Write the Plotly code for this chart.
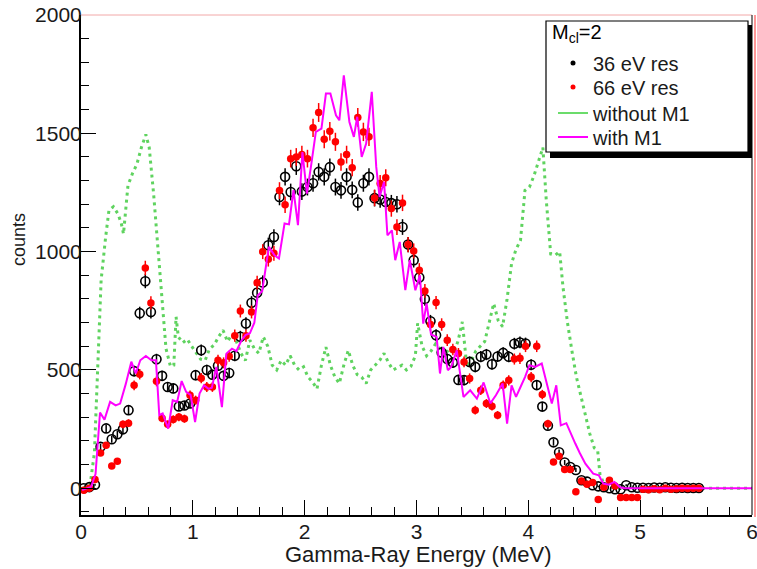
import plotly.graph_objects as go

# ---------------- data ----------------
BIN_START = 0.025   # MeV, first bin centre of the measured spectra
BIN_WIDTH = 0.05    # MeV

counts_36eV = [0, 5, 15, 175, 253, 207, 228, 249, 330, 495,
               740, 875, 745, 545, 475, 428, 422, 346, 350, 358,
               478, 583, 500, 480, 518, 475, 487, 560, 640, 696,
               784, 826, 870, 1027, 1062, 1231, 1316, 1252, 1361, 1254,
               1273, 1289, 1337, 1316, 1357, 1273, 1259, 1316, 1261, 1208,
               1289, 1316, 1226, 1220, 1210, 1205, 1200, 1104, 1030, 964,
               891, 800, 706, 647, 574, 546, 531, 458, 457, 534,
               513, 556, 565, 524, 557, 572, 556, 611, 616, 612,
               522, 436, 345, 264, 194, 152, 109, 90, 77, 34,
               28, 13, 8, 4, 0, -4, -4, 13, 4, 2,
               2, 1, 3, 2, 4, 2, 1, 2, 1, 1, 1]

counts_66eV = [-8, 0, 37, 149, 182, 94, 114, 270, 275, 435,
               482, 931, 783, 452, 296, 270, 291, 301, 294, 393,
               372, 465, 428, 428, 541, 530, 558, 645, 749, 645,
               745, 869, 1000, 968, 993, 1258, 1198, 1393, 1400, 1410,
               1393, 1523, 1588, 1475, 1509, 1464, 1379, 1410, 1355, 1567,
               1506, 1485, 1227, 1288, 1312, 1182, 1104, 1206, 1030, 1003,
               921, 834, 692, 785, 692, 626, 586, 569, 534, 464,
               330, 414, 358, 347, 309, 435, 456, 546, 549, 600,
               470, 600, 396, 273, 111, 135, 79, 79, -15, 31,
               17, 24, -48, 4, 34, 10, -39, -39, -39, -39,
               -4, -6, -2, -6, 0, -4, -2, 0, -1, 0, 0]

energy_36eV = [round(BIN_START + BIN_WIDTH * i, 4) for i in range(len(counts_36eV))]
energy_66eV = [round(BIN_START + BIN_WIDTH * i, 4) for i in range(len(counts_66eV))]

# model curve without M1 (green dotted)
energy_noM1 = [0.02, 0.08, 0.12, 0.15, 0.18, 0.22, 0.25, 0.29, 0.33, 0.36,
               0.38, 0.42, 0.46, 0.50, 0.54, 0.58, 0.61, 0.65, 0.69, 0.73,
               0.76, 0.80, 0.83, 0.85, 0.87, 0.91, 0.95, 0.99, 1.03, 1.07,
               1.11, 1.15, 1.19, 1.23, 1.27, 1.31, 1.35, 1.39, 1.43, 1.47,
               1.51, 1.55, 1.59, 1.63, 1.67, 1.71, 1.75, 1.79, 1.83, 1.87,
               1.91, 1.95, 1.99, 2.03, 2.07, 2.11, 2.15, 2.19, 2.23, 2.27,
               2.31, 2.35, 2.39, 2.43, 2.47, 2.51, 2.55, 2.59, 2.63, 2.67,
               2.71, 2.75, 2.79, 2.83, 2.87, 2.91, 2.95, 2.99, 3.01, 3.05,
               3.09, 3.13, 3.17, 3.21, 3.25, 3.29, 3.33, 3.37, 3.41, 3.45,
               3.49, 3.53, 3.57, 3.61, 3.65, 3.69, 3.73, 3.77, 3.81, 3.85,
               3.89, 3.93, 3.97, 4.01, 4.05, 4.09, 4.13, 4.16, 4.20, 4.24,
               4.28, 4.31, 4.35, 4.39, 4.43, 4.47, 4.51, 4.55, 4.59, 4.62,
               4.64, 4.68, 4.72, 4.80, 6.00]
counts_noM1 = [0, 10, 150, 513, 880, 1060, 1175, 1190, 1160, 1120,
               1075, 1280, 1330, 1370, 1440, 1495, 1440, 1240, 990, 740,
               590, 515, 520, 725, 640, 615, 630, 600, 570, 545,
               540, 590, 605, 640, 668, 620, 650, 620, 570, 540,
               626, 590, 570, 640, 600, 520, 500, 540, 520, 560,
               520, 500, 513, 470, 450, 420, 520, 597, 520, 470,
               443, 520, 583, 520, 480, 470, 443, 500, 520, 540,
               570, 530, 500, 510, 520, 500, 515, 560, 697, 600,
               560, 580, 610, 590, 560, 590, 570, 620, 703, 513,
               540, 580, 600, 620, 700, 781, 710, 683, 800, 950,
               1010, 1048, 1259, 1273, 1320, 1380, 1440, 1220, 990, 985,
               1000, 850, 700, 580, 470, 390, 316, 230, 170, 160,
               60, 13, 5, 0, 0]

# model curve with M1 (magenta solid)
energy_M1 = [0.01, 0.09, 0.13, 0.17, 0.21, 0.26, 0.31, 0.35, 0.40, 0.45,
             0.49, 0.53, 0.58, 0.63, 0.67, 0.70, 0.73, 0.78, 0.82, 0.86,
             0.90, 0.94, 0.98, 1.02, 1.06, 1.10, 1.14, 1.17, 1.21, 1.26,
             1.30, 1.35, 1.39, 1.43, 1.47, 1.51, 1.55, 1.58, 1.62, 1.68,
             1.73, 1.77, 1.82, 1.86, 1.90, 1.94, 1.98, 2.02, 2.06, 2.10,
             2.15, 2.19, 2.23, 2.28, 2.31, 2.35, 2.40, 2.44, 2.47, 2.51,
             2.55, 2.60, 2.64, 2.67, 2.71, 2.74, 2.78, 2.81, 2.85, 2.90,
             2.94, 2.99, 3.03, 3.06, 3.09, 3.13, 3.18, 3.21, 3.24, 3.28,
             3.31, 3.36, 3.42, 3.48, 3.54, 3.60, 3.66, 3.71, 3.77, 3.81,
             3.85, 3.89, 3.93, 3.97, 4.01, 4.06, 4.12, 4.16, 4.21, 4.25,
             4.29, 4.34, 4.38, 4.42, 4.46, 4.51, 4.55, 4.58, 4.63, 4.67,
             4.72, 4.77, 4.82, 4.86, 6.00]
counts_M1 = [-8, 6, 60, 320, 290, 365, 350, 358, 440, 535,
             485, 541, 559, 541, 541, 309, 316, 252, 372, 365,
             453, 407, 395, 280, 400, 435, 420, 425, 513, 343,
             569, 590, 580, 620, 647, 655, 700, 815, 833, 1020,
             985, 971, 1119, 1115, 1260, 1112, 1421, 1245, 1372, 1506,
             1520, 1668, 1668, 1576, 1555, 1745, 1548, 1485, 1570, 1400,
             1457, 1675, 1358, 1231, 1295, 1069, 1090, 964, 1041, 837,
             964, 837, 900, 696, 781, 650, 640, 485, 597, 499,
             513, 583, 386, 414, 379, 447, 359, 393, 443, 273,
             435, 386, 428, 470, 520, 513, 527, 456, 358, 435,
             266, 275, 230, 189, 149, 104, 80, 62, 55, 20,
             15, 27, 4, 0, 0]

x_ticks = [0, 1, 2, 3, 4, 5, 6]
y_ticks = [0, 500, 1000, 1500, 2000]

legend_header = "M<sub>cl</sub>=2"
series_names = ["36 eV res", "66 eV res", "without M1", "with M1"]
x_title = "Gamma-Ray Energy (MeV)"
y_title = "counts"

# ---------------- styling ----------------
FONT = "Liberation Sans, Arial, Helvetica, sans-serif"
GREEN = "#5fd35f"
MAGENTA = "#ff00ff"
RED = "#ff0000"
TXT = "#1a1a1a"

W, H = 757, 569
ML, MR, MT, MB = 81, 5, 15, 54
pw, ph = W - ML - MR, H - MT - MB


def px(xpix):
    return (xpix - ML) / pw


def py(ypix):
    return (H - MB - ypix) / ph


fig = go.Figure()

fig.add_trace(go.Scatter(
    x=energy_noM1, y=counts_noM1, mode="lines", showlegend=False,
    line=dict(color=GREEN, width=3, dash="3px,4px")))

fig.add_trace(go.Scatter(
    x=energy_36eV, y=counts_36eV, mode="markers", showlegend=False,
    marker=dict(symbol="circle-open", size=9, color="black", line=dict(width=1.6, color="black")),
    error_y=dict(type="sqrt", color="black", thickness=1.5, width=0)))

fig.add_trace(go.Scatter(
    x=energy_66eV, y=counts_66eV, mode="markers", showlegend=False,
    marker=dict(symbol="circle", size=7.5, color=RED),
    error_y=dict(type="sqrt", color=RED, thickness=1.5, width=0)))

fig.add_trace(go.Scatter(
    x=energy_M1, y=counts_M1, mode="lines", showlegend=False,
    line=dict(color=MAGENTA, width=2)))

# legend entries, one small legend per row so rows can sit at the reference spacing
fig.add_trace(go.Scatter(x=[None], y=[None], mode="markers", name=series_names[0], legend="legend",
                         marker=dict(color="black", size=5)))
fig.add_trace(go.Scatter(x=[None], y=[None], mode="markers", name=series_names[1], legend="legend2",
                         marker=dict(color=RED, size=5)))
fig.add_trace(go.Scatter(x=[None], y=[None], mode="lines", name=series_names[2], legend="legend3",
                         line=dict(color="#6bdc6b", width=2)))
fig.add_trace(go.Scatter(x=[None], y=[None], mode="lines", name=series_names[3], legend="legend4",
                         line=dict(color=MAGENTA, width=2)))

shapes = [
    # legend shadow and box
    dict(type="rect", xref="paper", yref="paper", x0=px(550), x1=px(752), y0=py(158), y1=py(25),
         fillcolor="black", line=dict(width=0), layer="above"),
    dict(type="rect", xref="paper", yref="paper", x0=px(546), x1=px(748), y0=py(152), y1=py(21),
         fillcolor="white", line=dict(color="black", width=1.2), layer="above"),
    # frame top (pinkish) and right edge
    dict(type="line", xref="paper", yref="paper", x0=0, x1=1, y0=1, y1=1,
         line=dict(color="#f2a8a8", width=1), layer="above"),
    dict(type="line", xref="paper", yref="paper", x0=1, x1=1, y0=0, y1=1,
         line=dict(color="black", width=1), layer="above"),
    dict(type="line", xref="paper", yref="paper", x0=px(755), x1=px(755), y0=py(517), y1=py(15),
         line=dict(color="#ff3030", width=1), layer="above"),
]

annotations = [
    dict(text=legend_header, xref="paper", yref="paper", x=px(550), y=py(33),
         xanchor="left", yanchor="middle", showarrow=False,
         font=dict(family=FONT, size=20, color="black")),
    dict(text=x_title, xref="paper", yref="paper", x=px(418), y=py(554),
         xanchor="center", yanchor="middle", showarrow=False,
         font=dict(family=FONT, size=22, color=TXT)),
    dict(text=y_title, xref="paper", yref="paper", x=px(19), y=py(240),
         xanchor="center", yanchor="middle", showarrow=False, textangle=-90,
         font=dict(family=FONT, size=18, color=TXT)),
]

row_y = [63, 87, 113, 137]
legend_common = dict(xanchor="left", yanchor="middle", bgcolor="rgba(0,0,0,0)", borderwidth=0,
                     font=dict(family=FONT, size=20, color=TXT), itemwidth=30,
                     itemclick=False, itemdoubleclick=False)

fig.update_layout(
    width=W, height=H,
    margin=dict(l=ML, r=MR, t=MT, b=MB, pad=0, autoexpand=False),
    paper_bgcolor="white", plot_bgcolor="white",
    font=dict(family=FONT, size=20, color="black"),
    shapes=shapes,
    annotations=annotations,
    legend=dict(x=px(553), y=py(row_y[0]), **legend_common),
    legend2=dict(x=px(553), y=py(row_y[1]), **legend_common),
    legend3=dict(x=px(553), y=py(row_y[2]), **legend_common),
    legend4=dict(x=px(553), y=py(row_y[3]), **legend_common),
    xaxis=dict(
        range=[0, 6], tickmode="array", tickvals=x_ticks, ticktext=[str(v) for v in x_ticks],
        showline=True, linecolor="black", linewidth=2, mirror=False, automargin=False,
        ticks="inside", ticklen=15, tickwidth=1, tickcolor="black",
        minor=dict(dtick=0.2, tick0=0, ticks="inside", ticklen=8, tickwidth=1, tickcolor="black"),
        showgrid=False, zeroline=False, ticklabeloverflow="allow", ticklabelstandoff=-3,
        tickfont=dict(family=FONT, size=21, color=TXT),
    ),
    yaxis=dict(
        range=[-113, 2000], tickmode="array", tickvals=y_ticks, ticktext=[str(v) for v in y_ticks],
        showline=True, linecolor="black", linewidth=2, mirror=False, automargin=False,
        ticks="inside", ticklen=15, tickwidth=1, tickcolor="black",
        minor=dict(dtick=100, tick0=0, ticks="inside", ticklen=8, tickwidth=1, tickcolor="black"),
        showgrid=False, zeroline=False, ticklabelstandoff=-7, ticklabeloverflow="allow",
        tickfont=dict(family=FONT, size=21, color=TXT),
    ),
)

fig.write_html("out.html", config={"displayModeBar": False},
               post_script="document.body.style.margin='0px';document.body.style.padding='0px';")
